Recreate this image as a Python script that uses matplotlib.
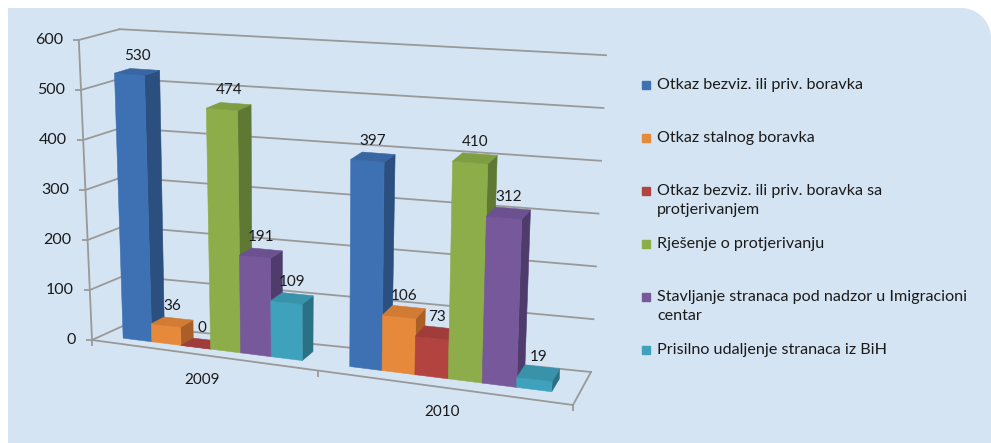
import numpy as np
import matplotlib
matplotlib.use("Agg")
import matplotlib.pyplot as plt
from matplotlib import transforms as mtransforms
from matplotlib.patches import Polygon
from matplotlib.markers import TICKLEFT, TICKDOWN

# ---------------- data ----------------
categories = ["2009", "2010"]
series_names = [
    "Otkaz bezviz. ili priv. boravka",
    "Otkaz stalnog boravka",
    "Otkaz bezviz. ili priv. boravka sa\nprotjerivanjem",
    "Rješenje o protjerivanju",
    "Stavljanje stranaca pod nadzor u Imigracioni\ncentar",
    "Prisilno udaljenje stranaca iz BiH",
]
values_2009 = [530, 36, 0, 474, 191, 109]
values_2010 = [397, 106, 73, 410, 312, 19]
y_ticks = [0, 100, 200, 300, 400, 500, 600]

# ---------------- style ----------------
front_colors = ["#3e71b3", "#e6893b", "#b2433f", "#8cad4a", "#77599b", "#3fa2bc"]
side_colors = ["#2b4f7f", "#a95f26", "#7f2c2a", "#5f7833", "#4f3b6c", "#2a7186"]
top_colors = ["#3766a2", "#d17b34", "#a03c39", "#7f9e42", "#6b5190", "#3792aa"]
panel_color = "#d5e4f3"
grid_color = "#999999"
text_color = "#1a1a1a"

plt.rcParams["font.family"] = ["Lato", "DejaVu Sans"]

W, H = 991, 443
fig = plt.figure(figsize=(W / 100, H / 100), dpi=100)
ax = fig.add_axes([0, 0, 1, 1])
ax.set_xlim(0, W)
ax.set_ylim(H, 0)
ax.set_autoscale_on(False)
ax.axis("off")

# panel with rounded top-right corner
r = 30
left, top = 8, 8
theta = np.linspace(np.pi / 2, 0, 20)
arc = np.column_stack([W - r + r * np.cos(theta), top + r - r * np.sin(theta)])
verts = np.vstack([[left, H + 5], [left, top], arc, [W + 5, H + 5], [left, H + 5]])
ax.add_patch(Polygon(verts, closed=True, facecolor=panel_color, edgecolor="none", zorder=0))

# ---------------- faux-3D geometry ----------------
n_series = len(series_names)
gap = 1.5
cat_w = n_series + gap
U = cat_w * len(categories)
D = 2.5
w_front, w_back = 0.75, 1.75
k_persp = -0.113

F0 = (92.0, 340.0)
F1 = (573.0, 405.0)
B0 = (125.0, 325.0)
B1 = (591.0, 372.0)
scale_c = (0.5, 0.55, 0.493, 0.528)      # FL, FR, BL, BR  px per unit
lean_c = (-0.022, 0.02, -0.009, 0.025)


def bil(c, f, s):
    fl, fr, bl, br = c
    return (1 - s) * ((1 - f) * fl + f * fr) + s * ((1 - f) * bl + f * br)


def proj(u, v, w):
    t = np.asarray(u, float) / U
    f = t * (1 + k_persp) / (1 + k_persp * t)
    s = np.asarray(w, float) / D
    bx = bil((F0[0], F1[0], B0[0], B1[0]), f, s)
    by = bil((F0[1], F1[1], B0[1], B1[1]), f, s)
    v = np.asarray(v, float)
    return bx + bil(lean_c, f, s) * v, by - bil(scale_c, f, s) * v


class PlaneTransform(mtransforms.Transform):
    input_dims = 2
    output_dims = 2
    is_separable = False
    has_inverse = False

    def __init__(self, fixed, value):
        super().__init__()
        self.fixed = fixed
        self.value = value

    def transform_non_affine(self, values):
        pts = np.asarray(values, float).reshape(-1, 2)
        a, b = pts[:, 0], pts[:, 1]
        c = np.full_like(a, self.value)
        if self.fixed == "w":
            X, Y = proj(a, b, c)
        elif self.fixed == "u":
            X, Y = proj(c, b, a)
        else:
            X, Y = proj(a, c, b)
        return np.column_stack([X, Y])


def plane(fixed, value):
    return PlaneTransform(fixed, value) + ax.transData


# ---------------- walls, grid, floor ----------------
lw = 1.3
for v in y_ticks:
    ax.plot([0, D], [v, v], color=grid_color, lw=lw, transform=plane("u", 0), zorder=1)
    ax.plot([0, U], [v, v], color=grid_color, lw=lw, transform=plane("w", D), zorder=1)
ax.plot([0, 0], [0, y_ticks[-1]], color=grid_color, lw=lw, transform=plane("w", 0), zorder=1)
ax.plot(np.zeros(len(y_ticks)), y_ticks, ls="none", marker=TICKLEFT, ms=4, mew=lw,
        color=grid_color, transform=plane("w", 0), zorder=1)
ax.plot([0, U], [0, 0], color=grid_color, lw=lw, transform=plane("w", 0), zorder=1)
ax.plot([0, D], [0, 0], color=grid_color, lw=lw, transform=plane("u", U), zorder=1)
cat_edges = [i * cat_w for i in range(len(categories) + 1)]
ax.plot(cat_edges, [0] * len(cat_edges), ls="none", marker=TICKDOWN, ms=4, mew=lw,
        color=grid_color, transform=plane("w", 0), zorder=1)

for v in y_ticks:
    ax.text(0, v, str(v), transform=mtransforms.offset_copy(plane("w", 0), fig=fig, x=-16, y=0, units="dots"),
            ha="right", va="center", fontsize=11.5, color=text_color)

for i, cat in enumerate(categories):
    ax.text(i * cat_w + cat_w / 2, 0, cat,
            transform=mtransforms.offset_copy(plane("v", 0), fig=fig, x=0, y=-25, units="dots"),
            ha="center", va="center", fontsize=11, color=text_color)

# ---------------- bars ----------------
all_values = [values_2009, values_2010]
order = 0
for ci, vals in enumerate(all_values):
    lefts = [ci * cat_w + gap / 2 + j for j in range(n_series)]
    bars = ax.bar(lefts, vals, width=1, align="edge", color=front_colors,
                  edgecolor=front_colors, linewidth=0.4, transform=plane("w", w_front))
    for j, (rect, val) in enumerate(zip(bars, vals)):
        z = 3 + order * 0.01
        order += 1
        rect.set_zorder(z)
        ul = lefts[j]
        side = Polygon([(w_front, 0), (w_back, 0), (w_back, val), (w_front, val)], closed=True,
                       facecolor=side_colors[j], edgecolor=side_colors[j], lw=0.4,
                       transform=plane("u", ul + 1), zorder=z - 0.001)
        ax.add_patch(side)
        topf = Polygon([(ul, w_front), (ul + 1, w_front), (ul + 1, w_back), (ul, w_back)], closed=True,
                       facecolor=top_colors[j], edgecolor=top_colors[j], lw=0.4,
                       transform=plane("v", val), zorder=z + 0.001)
        ax.add_patch(topf)
        ax.text(ul + 0.5, (w_front + w_back) / 2, str(val),
                transform=mtransforms.offset_copy(plane("v", val), fig=fig, x=0, y=16, units="dots"),
                ha="center", va="center", fontsize=11, color=text_color, zorder=10)

# ---------------- legend ----------------
leg_x, leg_y0, leg_dy = 646, 85, 53
for j, name in enumerate(series_names):
    y = leg_y0 + j * leg_dy
    ax.plot([leg_x], [y], ls="none", marker="s", ms=5.5, color=front_colors[j], zorder=5)
    ax.text(leg_x + 11, y, name, ha="left", va="top", fontsize=11.6, color=text_color,
            linespacing=1.42, transform=mtransforms.offset_copy(ax.transData, fig=fig, x=0, y=7, units="dots"))

ax.set_xlim(0, W)
ax.set_ylim(H, 0)
fig.savefig("out.png", dpi=100, facecolor="white")
